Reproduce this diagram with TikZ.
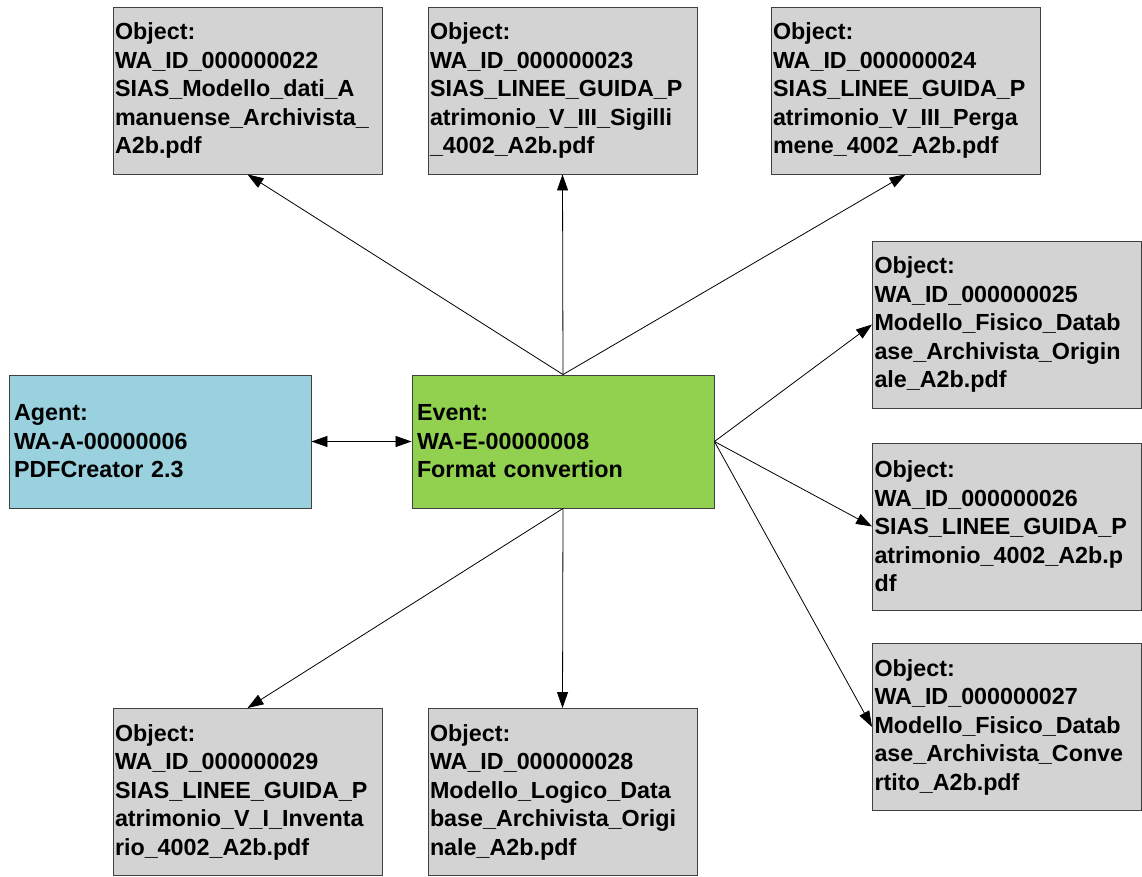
\documentclass[tikz,border=0pt]{standalone}
\usepackage{fontspec}
\setmainfont{Liberation Sans}
\usetikzlibrary{arrows.meta}

\definecolor{objfill}{RGB}{211,211,211}
\definecolor{agentfill}{RGB}{153,209,222}
\definecolor{eventfill}{RGB}{146,208,80}
\definecolor{boxline}{RGB}{64,64,64}

\tikzset{
  basebox/.style={draw=boxline, line width=0.9pt, rectangle, inner ysep=0pt,
    align=left, anchor=center,
    font=\fontsize{23.3}{28.5}\selectfont\bfseries},
  objbox/.style={basebox, inner xsep=2pt, fill=objfill, minimum width=269pt, minimum height=167pt, text width=265pt},
  agentbox/.style={basebox, inner xsep=5pt, fill=agentfill, minimum width=302pt, minimum height=133pt, text width=292pt},
  eventbox/.style={basebox, inner xsep=5pt, fill=eventfill, minimum width=302pt, minimum height=133pt, text width=292pt},
  link/.style={draw=black, line width=0.8pt, -{Triangle[length=16pt,width=11pt]}},
  duallink/.style={draw=black, line width=0.8pt, {Triangle[length=16pt,width=11pt]}-{Triangle[length=16pt,width=11pt]}}
}

\begin{document}
\begin{tikzpicture}[x=1pt, y=-1pt]
  \useasboundingbox (0,0) rectangle (1142,877);

  % central event and agent
  \node[eventbox] (event) at (563,441.5) {Event:\\WA-E-00000008\\Format convertion};
  \node[agentbox] (agent) at (160,441.5) {Agent:\\WA-A-00000006\\PDFCreator 2.3};

  % objects, top row
  \node[objbox] (o22) at (247.5,90.5) {Object:\\WA\_ID\_000000022\\SIAS\_Modello\_dati\_A\\manuense\_Archivista\_\\A2b.pdf};
  \node[objbox] (o23) at (562.5,90.5) {Object:\\WA\_ID\_000000023\\SIAS\_LINEE\_GUIDA\_P\\atrimonio\_V\_III\_Sigilli\\\_4002\_A2b.pdf};
  \node[objbox] (o24) at (905.5,90.5) {Object:\\WA\_ID\_000000024\\SIAS\_LINEE\_GUIDA\_P\\atrimonio\_V\_III\_Perga\\mene\_4002\_A2b.pdf};

  % objects, right column
  \node[objbox] (o25) at (1007,324.5) {Object:\\WA\_ID\_000000025\\Modello\_Fisico\_Datab\\ase\_Archivista\_Origin\\ale\_A2b.pdf};
  \node[objbox] (o26) at (1007,526.5) {Object:\\WA\_ID\_000000026\\SIAS\_LINEE\_GUIDA\_P\\atrimonio\_4002\_A2b.p\\df};
  \node[objbox] (o27) at (1007,727) {Object:\\WA\_ID\_000000027\\Modello\_Fisico\_Datab\\ase\_Archivista\_Conve\\rtito\_A2b.pdf};

  % objects, bottom row
  \node[objbox] (o29) at (247.5,792) {Object:\\WA\_ID\_000000029\\SIAS\_LINEE\_GUIDA\_P\\atrimonio\_V\_I\_Inventa\\rio\_4002\_A2b.pdf};
  \node[objbox] (o28) at (562.5,792) {Object:\\WA\_ID\_000000028\\Modello\_Logico\_Data\\base\_Archivista\_Origi\\nale\_A2b.pdf};

  % connectors
  \draw[duallink] (agent.east) -- (event.west);
  \draw[link] (event.north) -- (o22.south);
  \draw[link] (event.north) -- (o23.south);
  \draw[link] (event.north) -- (o24.south);
  \draw[link] (event.east) -- (o25.west);
  \draw[link] (event.east) -- (o26.west);
  \draw[link] (event.east) -- (o27.west);
  \draw[link] (event.south) -- (o29.north);
  \draw[link] (event.south) -- (o28.north);
\end{tikzpicture}
\end{document}
